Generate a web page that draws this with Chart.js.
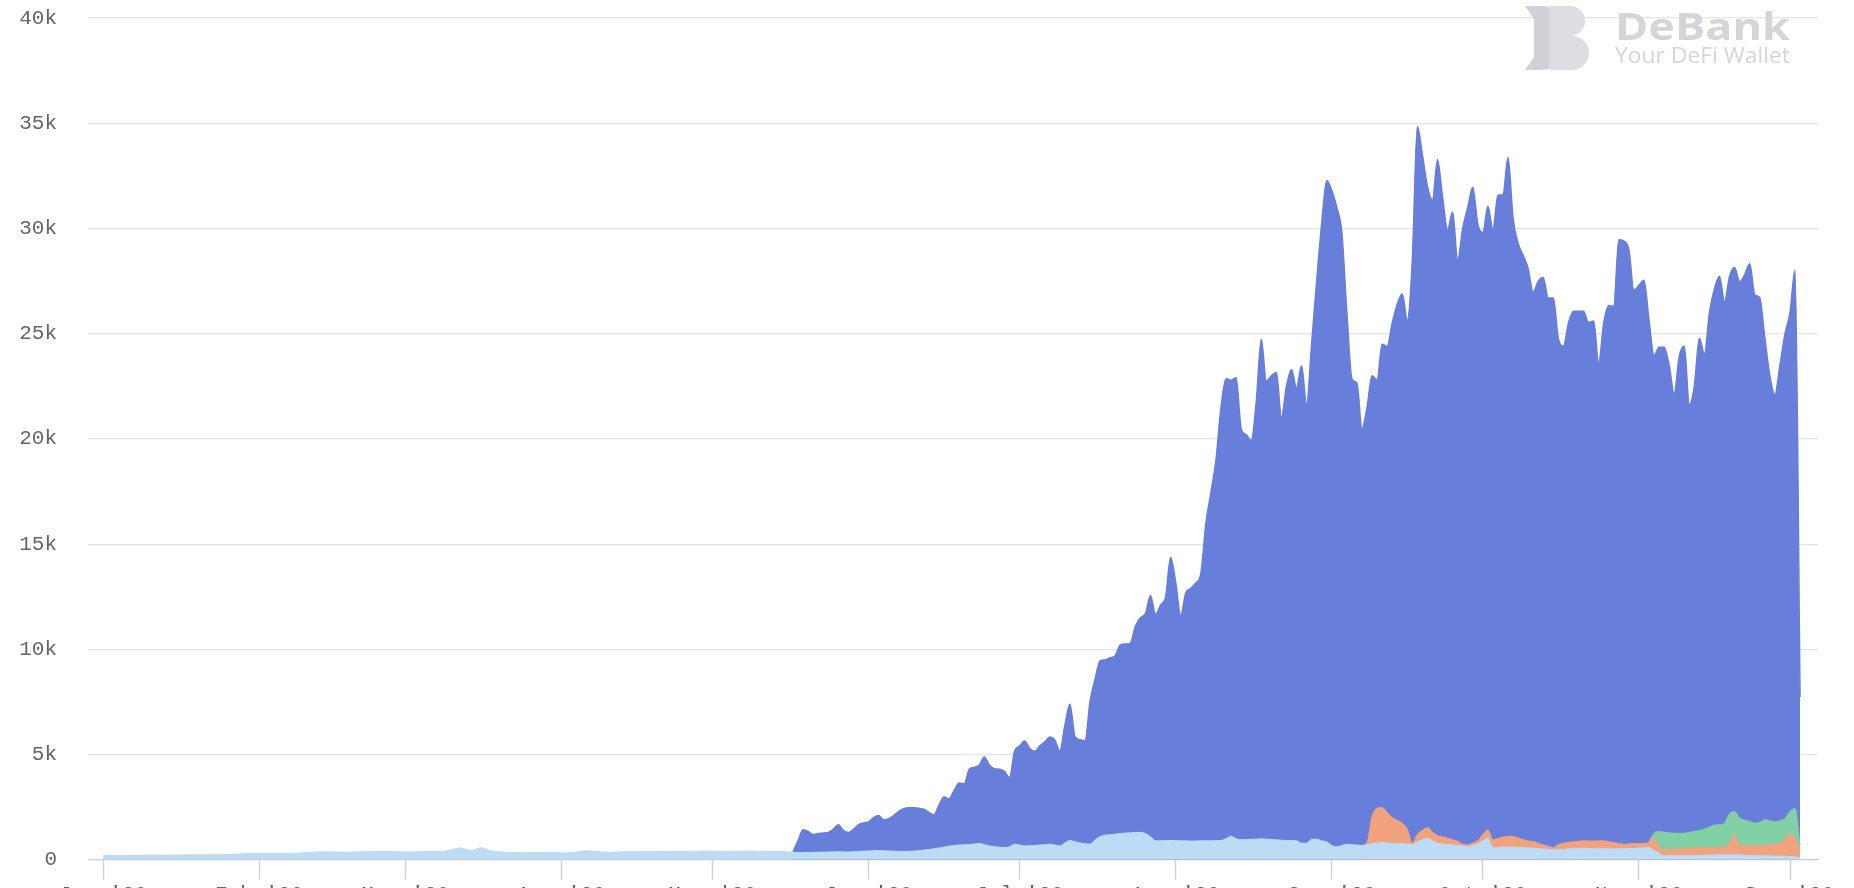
<!DOCTYPE html>
<html>
<head>
<meta charset="utf-8">
<script src="https://cdn.jsdelivr.net/npm/chart.js@4"></script>
<style>
  html, body { margin: 0; padding: 0; background: #fff; overflow: hidden; }
  #wrap { position: relative; width: 1854px; height: 909px; }
</style>
</head>
<body>
<div id="wrap"><canvas id="chart"></canvas></div>
<script>
// x values are days since 1 Jan 2020
const monthStarts = [0, 31, 60, 91, 121, 152, 182, 213, 244, 274, 305, 335]
const monthLabels = ["Jan '20", "Feb '20", "Mar '20", "Apr '20", "May '20", "Jun '20",
                     "Jul '20", "Aug '20", "Sep '20", "Oct '20", "Nov '20", "Dec '20"]

const earlyDays = [0, 4, 8, 12, 16, 20, 24, 28, 31, 36, 40, 44, 48, 52, 56, 60, 64, 68, 71, 73,
                   75, 77, 80, 84, 88, 92, 96, 100, 104, 108, 112, 116, 120, 124, 128, 132, 136]
const dailyDays = [
  137,138,139,140,141,142,143,144,145,146,147,148,149,150,151,152,153,154,155,156,
  157,158,159,160,161,162,163,164,165,166,167,168,169,170,171,172,173,174,175,176,
  177,178,179,180,181,182,183,184,185,186,187,188,189,190,191,192,193,194,195,196,
  197,198,199,200,201,202,203,204,205,206,207,208,209,210,211,212,213,214,215,216,
  217,218,219,220,221,222,223,224,225,226,227,228,229,230,231,232,233,234,235,236,
  237,238,239,240,241,242,243,244,245,246,247,248,249,250,251,252,253,254,255,256,
  257,258,259,260,261,262,263,264,265,266,267,268,269,270,271,272,273,274,275,276,
  277,278,279,280,281,282,283,284,285,286,287,288,289,290,291,292,293,294,295,296,
  297,298,299,300,301,302,303,304,305,306,307,308,309,310,311,312,313,314,315,316,
  317,318,319,320,321,322,323,324,325,326,327,328,329,330,331,332,333,334,335,336,
  337]

// light blue (bottom layer)
const baseEarly = [200,205,215,220,230,235,240,290,310,300,340,380,360,380,400,370,390,420,560,440,
                   570,430,360,340,350,320,430,360,380,390,400,400,420,400,420,400,380]
const baseDaily = [
  360,340,340,350,355,360,365,370,375,380,375,370,385,400,410,420,430,440,430,420,
  410,400,400,400,415,430,460,490,520,560,600,650,680,700,710,720,750,780,720,660,
  630,600,580,620,740,700,660,670,680,700,720,740,700,660,800,920,860,800,770,740,
  950,1100,1170,1190,1220,1250,1270,1280,1300,1300,1250,1100,900,900,910,920,910,900,900,890,
  890,900,900,900,910,920,1000,1120,1000,950,960,970,980,1000,980,960,950,930,920,910,
  900,790,790,980,980,900,850,680,620,680,740,720,700,680,720,760,800,820,800,780,
  780,760,750,740,850,950,1030,900,790,760,730,700,680,650,630,680,750,900,1030,580,
  590,600,600,600,590,580,560,550,530,510,490,470,480,490,510,530,540,550,540,530,
  525,520,520,520,520,520,530,540,550,570,580,450,320,190,195,200,200,200,200,200,
  210,215,220,230,235,240,240,240,230,210,205,200,195,190,185,180,175,170,160,140,
  100]

// orange layer, from day 250
const orangeSeries = [
  0,100,1300,1650,1660,1450,1230,1100,980,700,50,350,450,500,420,360,330,300,250,200,
  100,80,120,150,300,390,370,420,480,500,510,450,380,330,320,250,200,150,110,250,
  300,320,330,340,350,355,360,370,380,340,300,260,220,225,230,220,210,250,580,330,
  280,290,300,310,320,335,350,350,350,345,340,345,350,550,950,500,460,470,480,485,
  490,520,560,620,800,1050,890,300]

// green layer, from day 307
const greenSeries = [
  0,230,700,840,800,760,750,740,770,800,820,900,990,1080,1090,1150,1400,1100,1250,1220,
  1150,1060,1100,1220,1150,1060,1060,1000,1100,1400,300]

// dark blue (top layer), from day 137
const mainSeries = [
  20,560,1090,1000,845,890,905,930,1075,1290,1025,930,1065,1270,1340,1380,1570,1660,1470,1530,
  1690,1900,2030,2070,2055,2020,1940,1760,1610,2040,2390,2250,2620,2950,2890,3580,3650,3720,4160,3840,
  3700,3700,3620,3280,4420,4700,4990,4630,4480,4700,4880,5090,5000,4510,5600,6470,4990,4900,4890,6790,
  7650,8350,8330,8410,8480,8950,8980,9020,9800,10200,10450,11460,10770,11200,11590,13440,12290,10710,11780,12010,
  12260,12700,15100,16550,18090,20580,21860,21670,21920,19550,19240,18950,20780,23730,21770,22040,22200,20100,21580,22390,
  21530,22690,20850,23540,26520,29350,31430,31120,30380,29120,25260,22140,21950,19800,20680,20940,20350,22020,22140,23490,
  24520,25150,24190,27710,33640,32100,30470,30030,32120,30410,28920,29830,27620,29250,30290,31160,29300,28600,29630,29010,
  30570,30520,32270,29390,28260,27770,27200,26100,26720,26960,26050,26110,24030,23620,24670,25210,25190,25170,24635,24710,
  22705,24600,25480,25480,28680,28660,28235,26300,26530,26760,24810,22700,23010,23050,22215,20890,22650,23150,20335,21150,
  23400,22565,24445,25490,26060,24780,25540,25860,25490,25910,26495,25110,24920,22900,21145,20300,21645,23020,23690,25580,
  7030]

const baseDays = earlyDays.concat(dailyDays)
const baseSeries = baseEarly.concat(baseDaily)
const orangeDays = dailyDays.slice(dailyDays.indexOf(250))
const greenDays = dailyDays.slice(dailyDays.indexOf(307))

function pts(xs, ys) {
    return xs.map((x, i) => ({x: x, y: ys[i]}))
}

function area(label, xs, ys, color, bw) {
    return {
        label: label,
        data: pts(xs, ys),
        backgroundColor: color,
        borderColor: color,
        borderWidth: bw,
        pointRadius: 0,
        fill: 'origin',
        cubicInterpolationMode: 'monotone',
    }
}

// DeBank watermark, top right
const watermark = {
    id: 'watermark',
    afterDraw(chart) {
        const ctx = chart.ctx
        const right = chart.chartArea.right - 28
        const top = chart.chartArea.top
        ctx.save()
        // logo
        const lx = right - 265, ly = top - 12, h = 64
        ctx.fillStyle = '#cfd1d6'
        ctx.beginPath()
        ctx.moveTo(lx, ly)
        ctx.lineTo(lx + 16, ly)
        ctx.arc(lx + 16, ly + h / 2, h / 2, -Math.PI / 2, Math.PI / 2)
        ctx.lineTo(lx, ly + h)
        ctx.lineTo(lx + 9, ly + h - 13)
        ctx.lineTo(lx + 9, ly + 13)
        ctx.closePath()
        ctx.fill()
        ctx.fillStyle = '#dcdee2'
        ctx.beginPath()
        ctx.moveTo(lx + 24, ly)
        ctx.lineTo(lx + 45, ly)
        ctx.arc(lx + 45, ly + 15, 15, -Math.PI / 2, Math.PI / 2)
        ctx.lineTo(lx + 47, ly + 30)
        ctx.arc(lx + 47, ly + 47, 17, -Math.PI / 2, Math.PI / 2)
        ctx.lineTo(lx + 24, ly + h)
        ctx.closePath()
        ctx.fill()
        // texts
        ctx.fillStyle = '#d3d5d9'
        ctx.textBaseline = 'alphabetic'
        ctx.font = 'bold 38px "Open Sans"'
        let w = ctx.measureText('DeBank').width
        ctx.save()
        ctx.translate(right - 175, top + 22)
        ctx.scale(175 / w, 1)
        ctx.fillText('DeBank', 0, 0)
        ctx.restore()
        ctx.font = '21px "Open Sans"'
        w = ctx.measureText('Your DeFi Wallet').width
        ctx.save()
        ctx.translate(right - 175, top + 45)
        ctx.scale(175 / w, 1)
        ctx.fillText('Your DeFi Wallet', 0, 0)
        ctx.restore()
        ctx.restore()
    }
}

const tickFont = {family: '"Liberation Mono", "Courier New", monospace', size: 21}

new Chart(document.getElementById('chart').getContext('2d'), {
    type: 'line',
    data: {
        datasets: [
            area('base', baseDays, baseSeries, '#bcdbf5', 1),
            area('orange', orangeDays, orangeSeries, '#f2a27c', 1),
            area('green', greenDays, greenSeries, '#82d0a6', 1),
            area('main', dailyDays, mainSeries, '#687edb', 1.5),
        ]
    },
    plugins: [watermark],
    options: {
        responsive: true,
        maintainAspectRatio: false,
        animation: false,
        layout: {padding: {left: 19, right: 36, top: 18, bottom: 0}},
        plugins: {
            legend: {display: false},
            tooltip: {enabled: false}
        },
        scales: {
            x: {
                type: 'linear',
                min: -3,
                max: 340.56,
                afterBuildTicks: (axis) => {
                    axis.ticks = monthStarts.map(v => ({value: v}))
                },
                afterFit: (axis) => {
                    axis.paddingLeft = 0
                    axis.paddingRight = 0
                },
                ticks: {
                    autoSkip: false,
                    maxRotation: 0,
                    padding: 2,
                    color: '#666',
                    font: tickFont,
                    callback: (v, i) => monthLabels[i]
                },
                grid: {
                    drawOnChartArea: false,
                    tickLength: 20,
                    tickWidth: 1.5,
                    tickColor: '#d2d2d2'
                },
                border: {display: false}
            },
            y: {
                stacked: true,
                min: 0,
                max: 40000,
                afterFit: (axis) => {
                    axis.width = 69
                    axis.paddingTop = 0
                    axis.paddingBottom = 0
                },
                ticks: {
                    stepSize: 5000,
                    padding: 31,
                    color: '#666',
                    font: tickFont,
                    callback: (v) => v === 0 ? '0' : (v / 1000) + 'k'
                },
                grid: {
                    drawTicks: false,
                    color: (c) => c.tick && c.tick.value === 0 ? '#cccccc' : '#e4e4e4',
                    lineWidth: 1.2
                },
                border: {display: false}
            }
        }
    }
});
</script>
</body>
</html>
